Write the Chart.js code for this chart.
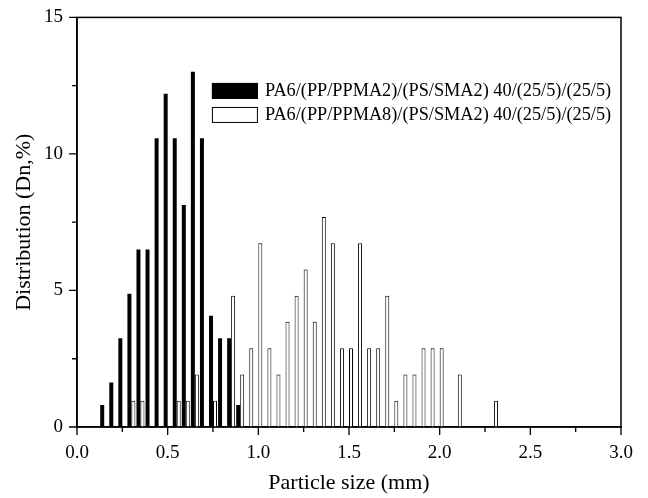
<!DOCTYPE html>
<html>
<head>
<meta charset="utf-8">
<script src="https://cdn.jsdelivr.net/npm/chart.js@4/dist/chart.umd.min.js"></script>
<style>
  html, body { margin: 0; padding: 0; background: #fff; }
  #wrap { width: 648px; height: 498px; position: relative; }
</style>
</head>
<body>
<div id="wrap"><canvas id="chart"></canvas></div>
<script>
// particle size (mm) and number distribution (%) for each blend
const sizes1 = [0.15, 0.2, 0.25, 0.3, 0.35, 0.4, 0.45, 0.5, 0.55, 0.6, 0.65, 0.7, 0.75, 0.8, 0.85, 0.9];
const dist1 = [0.81, 1.63, 3.25, 4.88, 6.5, 6.5, 10.57, 12.2, 10.57, 8.13, 13.01, 10.57, 4.07, 3.25, 3.25, 0.81];

const sizes2 = [0.3, 0.35, 0.55, 0.6, 0.65, 0.75, 0.85, 0.9, 0.95, 1.0, 1.05, 1.1, 1.15, 1.2, 1.25, 1.3,
  1.35, 1.4, 1.45, 1.5, 1.55, 1.6, 1.65, 1.7, 1.75, 1.8, 1.85, 1.9, 1.95, 2.0, 2.1, 2.3];
const dist2 = [0.96, 0.96, 0.96, 0.96, 1.92, 0.96, 4.81, 1.92, 2.88, 6.73, 2.88, 1.92, 3.85, 4.81, 5.77, 3.85,
  7.69, 6.73, 2.88, 2.88, 6.73, 2.88, 2.88, 4.81, 0.96, 1.92, 1.92, 2.88, 2.88, 2.88, 1.92, 0.96];

const labels = [
  "PA6/(PP/PPMA2)/(PS/SMA2) 40/(25/5)/(25/5)",
  "PA6/(PP/PPMA8)/(PS/SMA2) 40/(25/5)/(25/5)"
];

const xTicks = [0, 0.5, 1.0, 1.5, 2.0, 2.5, 3.0];
const yTicks = [0, 5, 10, 15];

const FONT = "'Liberation Serif', 'Times New Roman', serif";

// frame, outward major/minor ticks and an inside legend
const decor = {
  id: "decor",
  afterDraw(chart) {
    const ctx = chart.ctx;
    const a = chart.chartArea;
    const xs = chart.scales.x;
    const ys = chart.scales.y;
    ctx.save();
    ctx.strokeStyle = "#000";
    ctx.lineWidth = 1.5;
    ctx.strokeRect(a.left, a.top, a.right - a.left, a.bottom - a.top);

    ctx.lineWidth = 1.3;
    ctx.beginPath();
    xTicks.forEach((v, i) => {
      const px = xs.getPixelForValue(v);
      ctx.moveTo(px, a.bottom); ctx.lineTo(px, a.bottom + 8);
      if (i < xTicks.length - 1) {
        const mx = xs.getPixelForValue((v + xTicks[i + 1]) / 2);
        ctx.moveTo(mx, a.bottom); ctx.lineTo(mx, a.bottom + 5);
      }
    });
    yTicks.forEach((v, i) => {
      const py = ys.getPixelForValue(v);
      ctx.moveTo(a.left, py); ctx.lineTo(a.left - 8, py);
      if (i < yTicks.length - 1) {
        const my = ys.getPixelForValue((v + yTicks[i + 1]) / 2);
        ctx.moveTo(a.left, my); ctx.lineTo(a.left - 5, my);
      }
    });
    ctx.stroke();

    // legend
    const w = a.right - a.left;
    const h = a.bottom - a.top;
    const bx = a.left + w * 0.248;
    const by = a.top + h * 0.16;
    ctx.font = "18.3px " + FONT;
    ctx.textBaseline = "middle";
    chart.data.datasets.forEach((ds, i) => {
      const y = by + i * 24;
      ctx.fillStyle = ds.backgroundColor;
      ctx.fillRect(bx, y, 46, 16);
      ctx.lineWidth = 1;
      ctx.strokeStyle = "#000";
      ctx.strokeRect(bx + 0.5, y + 0.5, 45, 15);
      ctx.fillStyle = "#000";
      ctx.fillText(ds.label, bx + 53, y + 8.5);
    });
    ctx.restore();
  }
};

const data = {
  datasets: [
    {
      label: labels[0],
      data: sizes1.map((x, i) => ({ x, y: dist1[i] })),
      backgroundColor: "#000",
      borderColor: "#000",
      borderWidth: 0
    },
    {
      label: labels[1],
      data: sizes2.map((x, i) => ({ x, y: dist2[i] })),
      backgroundColor: "#fff",
      borderColor: "#000",
      borderWidth: 1
    }
  ]
};

new Chart(document.getElementById("chart"), {
  type: "bar",
  data,
  plugins: [decor],
  options: {
    responsive: true,
    maintainAspectRatio: false,
    animation: false,
    categoryPercentage: 0.88,
    barPercentage: 1.0,
    layout: { padding: { top: 16, right: 27, left: 0, bottom: 0 } },
    plugins: {
      legend: { display: false },
      tooltip: { enabled: false }
    },
    scales: {
      x: {
        type: "linear",
        min: 0,
        max: 3,
        offset: false,
        afterBuildTicks: s => { s.ticks = xTicks.map(v => ({ value: v })); },
        afterFit: s => { s.height = 71; },
        grid: { display: false },
        border: { display: true, color: "#000", width: 1.5 },
        ticks: {
          padding: 7,
          color: "#000",
          font: { family: FONT, size: 19 },
          callback: v => Number(v).toFixed(1)
        },
        title: {
          display: true,
          text: "Particle size (mm)",
          color: "#000",
          font: { family: FONT, size: 22 },
          padding: { top: 0, bottom: 2 }
        }
      },
      y: {
        min: 0,
        max: 15,
        afterBuildTicks: s => { s.ticks = yTicks.map(v => ({ value: v })); },
        afterFit: s => { s.width = 77; },
        grid: { display: false },
        border: { display: true, color: "#000", width: 1.5 },
        ticks: {
          padding: 6,
          color: "#000",
          font: { family: FONT, size: 19 },
          callback: v => String(v)
        },
        title: {
          display: true,
          text: "Distribution (Dn,%)",
          color: "#000",
          font: { family: FONT, size: 22 },
          padding: { top: 11, bottom: 0 }
        }
      }
    }
  }
});
</script>
</body>
</html>
